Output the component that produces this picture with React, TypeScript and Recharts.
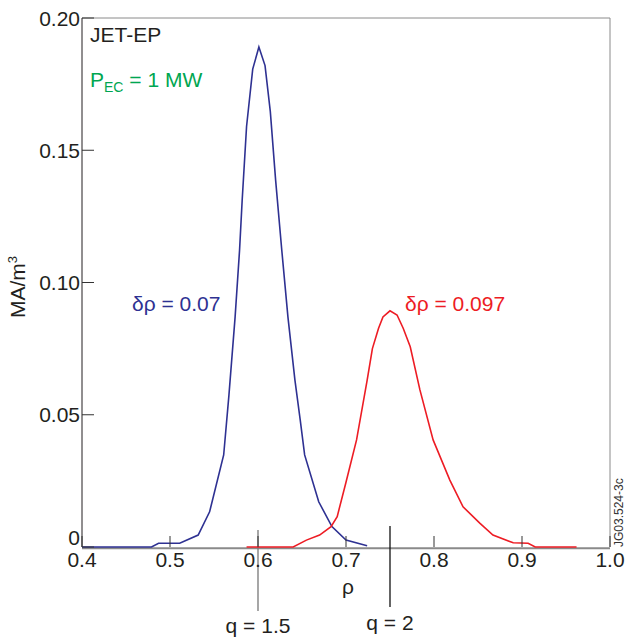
import React from 'react';
import { LineChart, Line, XAxis, YAxis, ReferenceLine } from 'recharts';

const blueRho = [0.40, 0.479, 0.487, 0.511, 0.532, 0.545, 0.561, 0.567, 0.574, 0.579, 0.582, 0.587, 0.594, 0.601, 0.608, 0.614, 0.620, 0.627, 0.634, 0.642, 0.648, 0.653, 0.669, 0.684, 0.700, 0.724];
const blueJ = [0, 0, 0.0014, 0.0014, 0.0045, 0.0133, 0.0348, 0.0575, 0.087, 0.112, 0.131, 0.159, 0.1807, 0.189, 0.182, 0.1646, 0.1388, 0.1123, 0.087, 0.063, 0.048, 0.0348, 0.0171, 0.0077, 0.0026, 0.0005];

const redRho = [0.587, 0.640, 0.655, 0.670, 0.683, 0.690, 0.700, 0.712, 0.724, 0.730, 0.737, 0.742, 0.750, 0.758, 0.765, 0.773, 0.784, 0.799, 0.818, 0.833, 0.852, 0.867, 0.890, 0.907, 0.915, 0.962];
const redJ = [0, 0, 0.0026, 0.0045, 0.0077, 0.0115, 0.0245, 0.0405, 0.063, 0.075, 0.0827, 0.087, 0.0893, 0.0877, 0.0827, 0.0757, 0.0594, 0.0405, 0.0253, 0.0152, 0.009, 0.0045, 0.0016, 0.0014, 0, 0];

const xTicks = [0.4, 0.5, 0.6, 0.7, 0.8, 0.9, 1.0];
const xTickLabels = ['0.4', '0.5', '0.6', '0.7', '0.8', '0.9', '1.0'];
const yTicks = [0, 0.05, 0.1, 0.15, 0.2];
const yTickLabels = ['0', '0.05', '0.10', '0.15', '0.20'];

const qRho = [0.6, 0.75];
const qLabels = ['q = 1.5', 'q = 2'];

const blueData = blueRho.map((x, i) => ({ x, y: blueJ[i] }));
const redData = redRho.map((x, i) => ({ x, y: redJ[i] }));

const FONT = '"Liberation Sans", Arial, Helvetica, sans-serif';

const XTick = (props: any) => {
  const { x, y, payload } = props;
  const i = xTicks.findIndex((t) => Math.abs(t - payload.value) < 1e-9);
  return (
    <g>
      <line x1={x} y1={y} x2={x} y2={y - 11} stroke="#333" strokeWidth={1} />
      <text x={x} y={y + 20} textAnchor="middle" fontSize={21} fontFamily={FONT} fill="#231f20">
        {i >= 0 ? xTickLabels[i] : payload.value}
      </text>
    </g>
  );
};

const YTick = (props: any) => {
  const { x, y, payload } = props;
  const i = yTicks.findIndex((t) => Math.abs(t - payload.value) < 1e-9);
  const isZero = payload.value === 0;
  return (
    <g>
      <line x1={x} y1={y} x2={x + 12} y2={y} stroke="#333" strokeWidth={1} />
      <text x={x - 2} y={isZero ? y - 2 : y + 7.5} textAnchor="end" fontSize={21} fontFamily={FONT} fill="#231f20">
        {i >= 0 ? yTickLabels[i] : payload.value}
      </text>
    </g>
  );
};

const makeQShape = (label: string, stroke: string, topOff: number, len: number, labelDy: number) => (props: any) => {
  const { x1, y1, y2 } = props;
  const bottom = Math.max(y1, y2);
  return (
    <g>
      <line x1={x1} x2={x1} y1={bottom - topOff} y2={bottom - topOff + len} stroke={stroke} strokeWidth={1.3} />
      <text x={x1} y={bottom + labelDy} textAnchor="middle" fontSize={21} fontFamily={FONT} fill="#231f20">
        {label}
      </text>
    </g>
  );
};

const BaseLine = (props: any) => {
  const { x1, x2, y1 } = props;
  return <line x1={x1} x2={x2} y1={y1 + 1.2} y2={y1 + 1.2} stroke="#8a8a8a" strokeWidth={2} />;
};

export default function App() {
  return (
    <div style={{ position: 'absolute', left: 0, top: 0, width: 628, height: 639, background: '#fff' }}>
      <LineChart width={628} height={639} margin={{ top: 18, right: 18, bottom: 62, left: 22 }}>
        <XAxis
          type="number"
          dataKey="x"
          domain={[0.4, 1.0]}
          ticks={xTicks}
          height={30}
          tickSize={0}
          tickMargin={0}
          tickLine={false}
          tick={<XTick />}
          axisLine={false}
        />
        <YAxis
          type="number"
          dataKey="y"
          domain={[0, 0.2]}
          ticks={yTicks}
          width={60}
          tickSize={0}
          tickMargin={0}
          tickLine={false}
          tick={<YTick />}
          axisLine={{ stroke: '#231f20', strokeWidth: 1 }}
        />
        <ReferenceLine y={0} ifOverflow="visible" shape={BaseLine} />
        <ReferenceLine y={0.2} stroke="#8a8a8a" strokeWidth={1} ifOverflow="visible" />
        <ReferenceLine x={1.0} stroke="#8a8a8a" strokeWidth={1} ifOverflow="visible" />
        <ReferenceLine x={qRho[0]} ifOverflow="visible" shape={makeQShape(qLabels[0], '#777', 17, 81, 86)} />
        <ReferenceLine x={qRho[1]} ifOverflow="visible" shape={makeQShape(qLabels[1], '#111', 21, 81, 83)} />
        <Line data={blueData} dataKey="y" type="linear" stroke="#2e3192" strokeWidth={1.6} dot={false} isAnimationActive={false} />
        <Line data={redData} dataKey="y" type="linear" stroke="#ed1c24" strokeWidth={1.6} dot={false} isAnimationActive={false} />
      </LineChart>
      <svg width={628} height={639} style={{ position: 'absolute', left: 0, top: 0, pointerEvents: 'none' }}>
        <g fontFamily={FONT} fontSize={21}>
          <text x={90} y={42} fill="#231f20">JET-EP</text>
          <text x={90} y={87} fill="#00a651">
            P<tspan fontSize={14} dy={5}>EC</tspan>
            <tspan dy={-5}> = 1 MW</tspan>
          </text>
          <text x={132} y={311} fill="#2e3192">δρ = 0.07</text>
          <text x={405} y={311} fill="#ed1c24">δρ = 0.097</text>
          <text x={348} y={594} textAnchor="middle" fill="#231f20">ρ</text>
          <text transform="translate(25,318) rotate(-90)" fill="#231f20">
            MA/m<tspan fontSize={13} dy={-8}>3</tspan>
          </text>
          <text transform="translate(623,547) rotate(-90)" fontSize={12} fill="#333">JG03.524-3c</text>
        </g>
      </svg>
    </div>
  );
}
